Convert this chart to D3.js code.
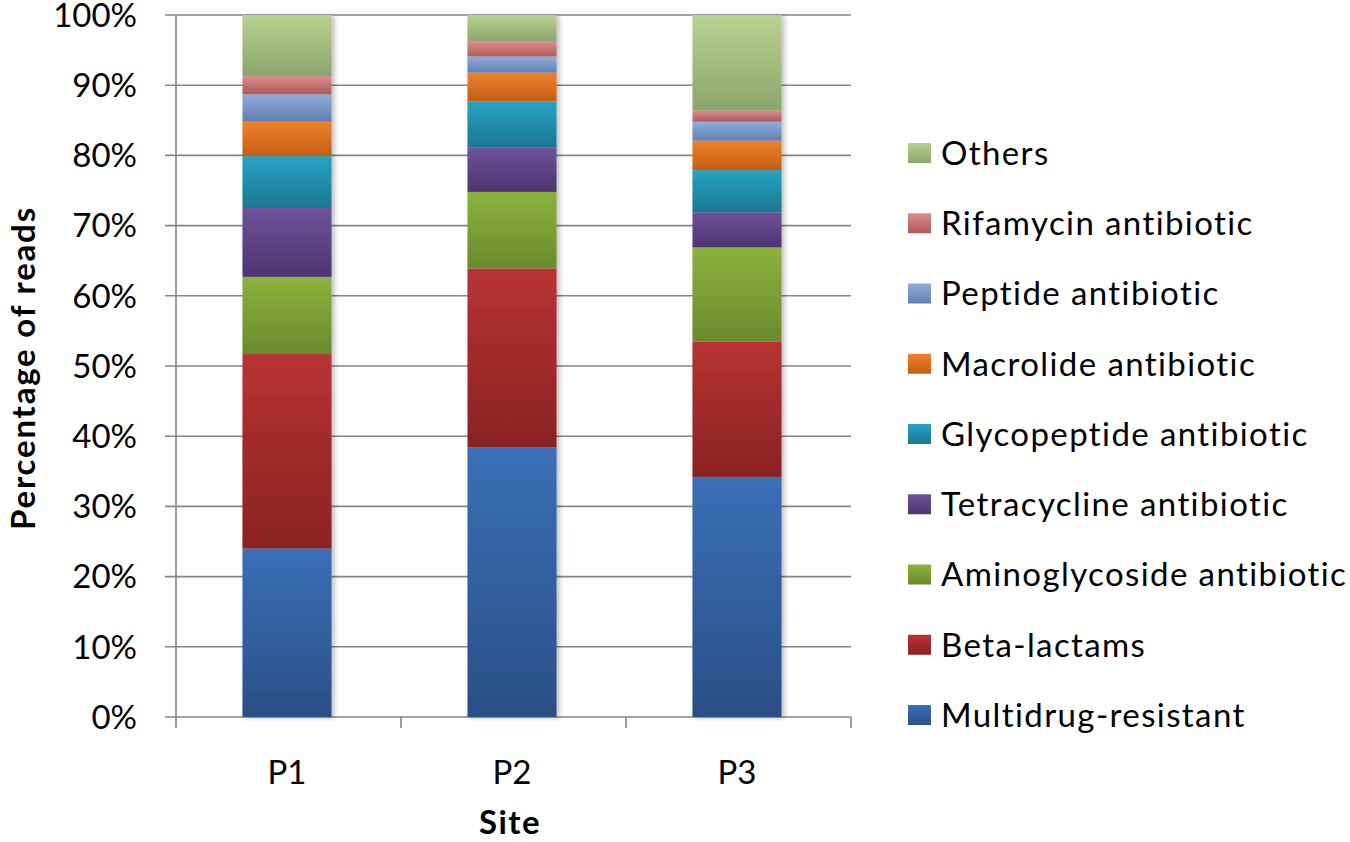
<!DOCTYPE html>
<html><head><meta charset="utf-8">
<script src="https://cdn.jsdelivr.net/npm/d3@7"></script>
<style>
html,body{margin:0;padding:0;background:#fff;}
svg{display:block;}
text{font-family:Lato,"Open Sans",sans-serif;fill:#000;}
</style></head>
<body><svg id="c" width="1350" height="842"></svg>
<script>
const sites = ["P1","P2","P3"];
const seriesNames = ["Multidrug-resistant","Beta-lactams","Aminoglycoside antibiotic","Tetracycline antibiotic","Glycopeptide antibiotic","Macrolide antibiotic","Peptide antibiotic","Rifamycin antibiotic","Others"];
const multidrug   = [24.0, 38.4, 34.2];
const betaLactams = [27.7, 25.5, 19.3];
const aminoglyco  = [11.0, 10.9, 13.4];
const tetracycline= [9.8, 6.3, 5.0];
const glycopeptide= [7.4, 6.6, 6.0];
const macrolide   = [4.9, 4.1, 4.2];
const peptide     = [3.9, 2.3, 2.7];
const rifamycin   = [2.6, 2.1, 1.6];
const others      = [8.7, 3.8, 13.6];
const yTicks = [0,0.1,0.2,0.3,0.4,0.5,0.6,0.7,0.8,0.9,1.0];
const colorsTop = ["#3a6fb7","#b93333","#8cb23e","#70519c","#28a3c5","#f2802a","#92acdc","#dc8d8c","#b9d291"];
const colorsBot = ["#2a4f86","#8a2222","#6a8a2d","#4c3571","#197890","#c25e15","#5f7fb2","#ad5a59","#8ba56b"];

const values = [multidrug,betaLactams,aminoglyco,tetracycline,glycopeptide,macrolide,peptide,rifamycin,others];
const table = sites.map((s,i)=>{const o={site:s}; const tot=d3.sum(values,v=>v[i]); seriesNames.forEach((n,k)=>o[n]=values[k][i]/tot); return o;});
const stack = d3.stack().keys(seriesNames)(table);

const svg = d3.select("#c");
const defs = svg.append("defs");
seriesNames.forEach((n,k)=>{
  const g = defs.append("linearGradient").attr("id","g"+k).attr("x1",0).attr("y1",0).attr("x2",0).attr("y2",1);
  g.append("stop").attr("offset","0%").attr("stop-color",colorsTop[k]);
  g.append("stop").attr("offset","100%").attr("stop-color",colorsBot[k]);
});
const f = defs.append("filter").attr("id","sh").attr("x","-10%").attr("y","-5%").attr("width","130%").attr("height","110%");
f.append("feDropShadow").attr("dx",3).attr("dy",1).attr("stdDeviation",2.5).attr("flood-color","#000").attr("flood-opacity",0.25);

const pLeft=176, pRight=851, pTop=15, pBottom=717;
const x = d3.scaleBand().domain(sites).range([pLeft,pRight]).paddingInner(0.604).paddingOuter(0.302);
const y = d3.scaleLinear().domain([0,1]).range([pBottom,pTop]);

// gridlines
svg.append("g").selectAll("line").data(yTicks).join("line")
  .attr("x1",pLeft-11).attr("x2",pRight).attr("y1",d=>y(d)).attr("y2",d=>y(d))
  .attr("stroke","#868686").attr("stroke-width",1.6);
// y axis line
svg.append("line").attr("x1",pLeft).attr("x2",pLeft).attr("y1",pTop).attr("y2",pBottom).attr("stroke","#868686").attr("stroke-width",1.6);
// x tick marks at category boundaries
const bounds = [pLeft].concat(sites.map(s=>x(s)+x.bandwidth()+x.step()*x.paddingInner()/2));
svg.append("g").selectAll("line").data(bounds).join("line")
  .attr("x1",d=>d).attr("x2",d=>d).attr("y1",pBottom).attr("y2",pBottom+11)
  .attr("stroke","#868686").attr("stroke-width",1.6);

// bars
const gb = svg.append("g").attr("filter","url(#sh)");
stack.forEach((layer,k)=>{
  gb.append("g").selectAll("rect").data(layer).join("rect")
    .attr("x",d=>x(d.data.site)-1.5).attr("width",x.bandwidth())
    .attr("y",d=>y(d[1])).attr("height",d=>y(d[0])-y(d[1]))
    .attr("fill","url(#g"+k+")");
});

// y tick labels
svg.append("g").selectAll("text").data(yTicks).join("text")
  .attr("x",137).attr("y",d=>y(d)).attr("dy","0.36em").attr("text-anchor","end")
  .attr("font-size",33).text(d=>d3.format(".0%")(d));
// x tick labels
svg.append("g").selectAll("text").data(sites).join("text")
  .attr("x",d=>x(d)+x.bandwidth()/2-1.5).attr("y",772).attr("dy","0.36em").attr("text-anchor","middle")
  .attr("font-size",33).text(d=>d);
// axis titles
svg.append("text").attr("x",510).attr("y",822).attr("dy","0.36em").attr("text-anchor","middle")
  .attr("font-size",33).attr("font-weight","bold").attr("letter-spacing",1.5).text("Site");
svg.append("text").attr("transform","translate(35,368) rotate(-90)").attr("text-anchor","middle")
  .attr("font-size",33).attr("font-weight","bold").attr("letter-spacing",1.8).text("Percentage of reads");

// legend
const legendOrder = seriesNames.map((n,k)=>k).reverse();
const lg = svg.append("g");
legendOrder.forEach((k,i)=>{
  const cy = 153 + i*70.25;
  lg.append("rect").attr("x",908).attr("y",cy-10).attr("width",23).attr("height",20).attr("fill","url(#g"+k+")");
  lg.append("text").attr("x",941).attr("y",cy).attr("dy","0.36em").attr("font-size",33).attr("letter-spacing",1.4).text(seriesNames[k]);
});
</script></body></html>
